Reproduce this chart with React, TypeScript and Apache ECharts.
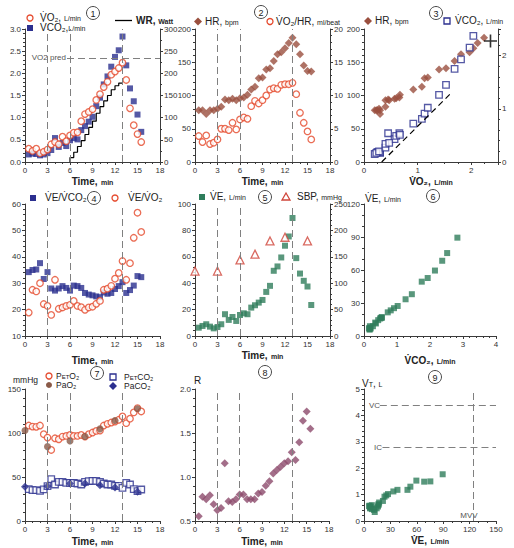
import React, { useEffect, useRef } from 'react';
import * as echarts from 'echarts';

// ---------- data ----------
const times = [0.5, 1, 1.5, 2, 2.5, 3, 3.5, 4, 4.5, 5, 5.5, 6, 6.5, 7, 7.5, 8, 8.5, 9, 9.5, 10, 10.5, 11, 11.5, 12, 12.5, 13, 13.5, 14, 14.5, 15, 15.5];
const vo2 = [0.30, 0.25, 0.30, 0.20, 0.23, 0.28, 0.40, 0.45, 0.40, 0.57, 0.47, 0.60, 0.66, 0.67, 0.92, 1.08, 1.13, 1.19, 1.40, 1.53, 1.69, 1.81, 1.97, 2.04, 2.12, 2.24, 1.85, 1.21, 0.83, 0.63, 0.45];
const vco2 = [0.17, 0.19, 0.18, 0.15, 0.17, 0.20, 0.27, 0.54, 0.34, 0.43, 0.36, 0.49, 0.54, 0.51, 0.72, 0.81, 0.91, 1.02, 1.26, 1.45, 1.75, 1.93, 2.15, 2.37, 2.52, 2.83, 2.18, 1.66, 1.37, 1.07, 0.68];
const wrTimes = [6, 6, 6.5, 7, 7.5, 8, 8.5, 9, 9.5, 10, 10.5, 11, 11.5, 12, 12.5, 13];
const wrWatts = [0, 10, 22, 35, 48, 62, 78, 92, 110, 125, 138, 150, 163, 172, 178, 178];
const hr = [78, 78, 72, 78, 78, 80, 83, 94, 93, 95, 93, 96, 97, 101, 109, 113, 126, 127, 139, 141, 152, 162, 165, 171, 179, 187, 177, 162, 145, 137, 136];
const vo2PerHr = [3.9, 3.0, 4.0, 2.7, 2.9, 3.4, 5.0, 5.0, 4.8, 5.9, 4.9, 6.4, 6.7, 6.5, 8.4, 9.2, 8.8, 9.3, 10.0, 10.9, 11.1, 11.0, 11.6, 11.7, 11.7, 11.9, 10.2, 7.4, 5.9, 4.6, 3.4];
const veVco2 = [34.2, 35.0, 35.2, 37.6, 31.6, 34.2, 28.0, 27.2, 28.0, 28.9, 28.2, 27.2, 29.1, 28.9, 28.2, 26.3, 25.7, 25.4, 25.0, 24.7, 26.5, 26.0, 26.3, 27.8, 28.9, 30.4, 26.3, 27.4, 29.1, 32.7, 32.3];
const veVo2 = [18.9, 27.5, 26.9, 30.0, 22.1, 21.4, 18.0, 31.3, 20.3, 20.8, 21.4, 21.8, 23.3, 21.4, 20.9, 19.9, 20.8, 21.1, 22.2, 23.3, 27.5, 27.9, 29.0, 31.7, 33.9, 38.4, 31.3, 37.6, 47.2, 56.7, 49.4];
const ve = [6.3, 7.6, 8.9, 7.1, 5.8, 6.8, 8.9, 16.5, 12.2, 14.4, 11.4, 15.9, 17.2, 16.5, 21.5, 23.3, 25.3, 27.3, 33.4, 38.0, 49.4, 52.7, 59.5, 68.4, 75.4, 89.4, 59.0, 47.3, 41.8, 37.5, 23.5];
const sbpTimes = [0, 3, 6, 8, 10, 12, 15];
const sbp = [123, 123, 144, 155, 180, 187, 180];
const petO2 = [108.5, 107.3, 107.0, 108.5, 98.6, 94.8, 80.7, 94.0, 92.9, 95.9, 96.7, 97.8, 96.7, 96.7, 97.8, 95.9, 98.6, 100.5, 102.4, 102.8, 108.5, 110.4, 111.9, 113.0, 115.0, 118.8, 111.2, 116.2, 123.4, 128.3, 124.5];
const petCo2 = [36.2, 35.0, 35.0, 34.3, 36.0, 39.6, 47.6, 41.5, 44.5, 44.5, 43.4, 43.4, 43.4, 42.6, 41.5, 44.5, 45.3, 45.7, 45.7, 44.5, 42.6, 41.5, 41.5, 40.0, 40.0, 37.7, 43.4, 41.5, 36.2, 33.9, 35.8];
const bloodTimes = [0, 3, 6, 8, 10, 12, 15];
const paO2 = [102.8, 84.5, 91, 96, 104.7, 114.2, 127.5];
const paCo2 = [38.8, 39.6, 42.6, 42.6, 40.7, 38.0, 33.1];
const rer = [0.553, 0.775, 0.748, 0.793, 0.69, 0.622, 0.648, 1.155, 0.725, 0.717, 0.748, 0.80, 0.80, 0.748, 0.748, 0.748, 0.813, 0.83, 0.90, 0.953, 1.04, 1.08, 1.117, 1.155, 1.18, 1.28, 1.193, 1.395, 1.638, 1.745, 1.547];
const vt = [0.58, 0.55, 0.60, 0.52, 0.56, 0.48, 0.45, 0.63, 0.34, 0.48, 0.42, 0.55, 0.70, 0.62, 0.76, 0.92, 0.97, 1.02, 1.12, 1.18, 1.18, 1.30, 1.53, 1.49, 1.50, 1.77];
const exerciseCount = 26; // samples up to peak exercise (t = 13 min)
const stageTimes = [3, 6, 13];
const vo2Pred = 2.35;
const predMax = [2.36, 182];
const slopeLine = [[0.33, 0], [1.6, 1.27]];
const vcLevel = 4.37;
const icLevel = 2.78;
const mvvLevel = 124;

// ---------- styles ----------
const FONT = '"Liberation Sans", Arial, Helvetica, sans-serif';
const AX = '#3a3a3a';
const DASH = '#808080';
const INK = '#222';
const C_ORANGE = '#E5482B';
const C_NAVY = '#2B2F8F';
const C_BROWN = '#9A4F3E';
const C_GREEN = '#2F7D5B';
const C_PURPLE = '#8C4A6C';
const C_RED = '#D0453A';
const C_PAO2 = '#8A5A48';
const DOT = 'V\u0307';

const tok = (fontSize: number, bold = false, pad = 0) => ({
  fontSize,
  fontWeight: bold ? 'bold' : 'normal',
  color: INK,
  fill: INK,
  fontFamily: FONT,
  verticalAlign: 'bottom',
  padding: [0, 0, pad, 0],
});
const rich = {
  b: tok(10, true),
  n: tok(10),
  m: tok(8.5),
  s: tok(7, false, 0.5),
  sb: tok(7, true, 0.5),
  ss: tok(6, false, 0.5),
};

const pair = (xs: number[], ys: number[]) => xs.map((x, i) => [x, ys[i]]);

function valAxis(grid: number, min: number, max: number, interval: number, o: any = {}) {
  return {
    type: 'value',
    gridIndex: grid,
    min,
    max,
    interval,
    position: o.position,
    name: o.name,
    nameLocation: 'middle',
    nameGap: o.nameGap ?? 12,
    nameTextStyle: { rich },
    axisLine: { show: true, onZero: false, lineStyle: { color: AX, width: 1 } },
    axisTick: { show: true, length: 3, lineStyle: { color: AX } },
    minorTick: { show: true, splitNumber: o.minor ?? 5, length: 2, lineStyle: { color: AX } },
    splitLine: { show: false },
    axisLabel: {
      fontSize: 8,
      color: '#333',
      margin: 4,
      fontFamily: FONT,
      showMaxLabel: o.hideMax ? false : true,
      formatter: o.fmt,
    },
  };
}

const timeAxis = (grid: number, gap: number) =>
  valAxis(grid, 0, 18, 3, { name: '{b|Time,} {sb|min}', nameGap: gap, minor: 3 });

function scatter(x: number, y: number, data: any[], symbol: string, size: number, color: string, filled: boolean, extra: any = {}) {
  return {
    type: 'scatter',
    xAxisIndex: x,
    yAxisIndex: y,
    data,
    symbol,
    symbolSize: size,
    clip: true,
    silent: true,
    itemStyle: filled ? { color } : { color: '#fff', borderColor: color, borderWidth: 1.3 },
    ...extra,
  };
}

const stageLines = {
  silent: true,
  symbol: 'none',
  label: { show: false },
  lineStyle: { color: DASH, type: [7, 4], width: 1 },
  data: stageTimes.map((t) => ({ xAxis: t })),
};

// ---------- graphic helpers ----------
function mk(type: string, cx: number, cy: number, color: string, filled: boolean) {
  const style = filled ? { fill: color } : { fill: '#fff', stroke: color, lineWidth: 1.3 };
  if (type === 'circle') return { type: 'circle', shape: { cx, cy, r: 3 }, style };
  if (type === 'rect') return { type: 'rect', shape: { x: cx - 3, y: cy - 3, width: 6, height: 6 }, style };
  if (type === 'diamond')
    return { type: 'polygon', shape: { points: [[cx, cy - 4], [cx + 4, cy], [cx, cy + 4], [cx - 4, cy]] }, style };
  return { type: 'polygon', shape: { points: [[cx, cy - 4], [cx + 4, cy + 3], [cx - 4, cy + 3]] }, style };
}
function txt(x: number, y: number, text: string, align = 'left', size = 10, color = INK) {
  return {
    type: 'text',
    x,
    y,
    style: { text, rich, align, verticalAlign: 'middle', fontFamily: FONT, fontSize: size, fill: color },
  };
}
function num(x: number, y: number, n: number) {
  return [
    { type: 'circle', shape: { cx: x, cy: y, r: 6.5 }, style: { fill: 'none', stroke: '#333', lineWidth: 0.9 } },
    txt(x, y + 0.5, String(n), 'center', 9),
  ];
}

export default function App() {
  const ref = useRef<HTMLDivElement>(null);
  useEffect(() => {
    if (!ref.current) return;
    const chart = echarts.init(ref.current, null, { renderer: 'svg' });

    const vo2Ex = vo2.slice(0, exerciseCount);
    const vco2Ex = vco2.slice(0, exerciseCount);
    const hrEx = hr.slice(0, exerciseCount);
    const veEx = ve.slice(0, exerciseCount);

    const graphic: any[] = [
      // panel 1
      ...num(93, 13, 1),
      mk('circle', 30, 18, C_ORANGE, false),
      txt(40, 17, `{n|${DOT}O₂,} {s|L/min}`),
      mk('rect', 30, 28, C_NAVY, true),
      txt(40, 27, `{n|${DOT}CO₂,}{s|L/min}`),
      { type: 'line', shape: { x1: 115, y1: 20.5, x2: 132, y2: 20.5 }, style: { stroke: '#000', lineWidth: 1.3 } },
      txt(136, 20, '{b|WR,} {sb|Watt}'),
      txt(66, 57.5, 'VO2 pred', 'right', 8, '#555'),
      // panel 2
      ...num(261, 12, 2),
      mk('diamond', 198, 21.5, C_BROWN, true),
      txt(205, 21, '{n|HR,} {s|bpm}'),
      mk('circle', 270, 21.5, C_ORANGE, false),
      txt(276, 21, `{n|${DOT}O₂/HR,} {s|ml/beat}`),
      // panel 3
      ...num(436, 13, 3),
      mk('diamond', 368, 21, C_BROWN, true),
      txt(375, 20.5, '{n|HR,} {s|bpm}'),
      mk('rect', 447, 21, C_NAVY, false),
      txt(455, 20.5, `{n|${DOT}CO₂,} {s|L/min}`),
      // panel 4
      ...num(94, 198, 4),
      mk('rect', 33, 198, C_NAVY, true),
      txt(45, 197.5, `{n|${DOT}E/${DOT}CO₂}`),
      mk('circle', 115, 198, C_ORANGE, false),
      txt(128, 197.5, `{n|${DOT}E/${DOT}O₂}`),
      // panel 5
      ...num(265, 197, 5),
      mk('rect', 202, 197, C_GREEN, true),
      txt(210, 196.5, `{n|${DOT}E,} {s|L/min}`),
      mk('triangle', 286, 197, C_RED, false),
      txt(297, 196.5, '{n|SBP,} {s|mmHg}'),
      // panel 6
      ...num(433, 196, 6),
      txt(365, 198, `{n|${DOT}E,} {s|L/min}`),
      // panel 7
      ...num(97, 373, 7),
      txt(13, 380, '{m|mmHg}'),
      mk('circle', 49, 376, C_ORANGE, false),
      txt(56, 375.5, '{m|P}{ss|ET}{m|O₂}'),
      mk('circle', 49, 385, C_PAO2, true),
      txt(56, 385, '{m|PaO₂}'),
      mk('rect', 113, 377, C_NAVY, false),
      txt(124, 376.5, '{m|P}{ss|ET}{m|CO₂}'),
      mk('diamond', 113, 386, C_NAVY, true),
      txt(124, 386, '{m|PaCO₂}'),
      // panel 8
      ...num(265, 372, 8),
      txt(194, 380, '{n|R}'),
      // panel 9
      ...num(435, 377, 9),
      txt(362, 383, '{n|V}{s|T}{n|,} {s|L}'),
      txt(380, 405.5, 'VC', 'right', 8, '#555'),
      txt(382, 447.5, 'IC', 'right', 8, '#555'),
      txt(469, 515, 'MVV', 'center', 8, '#555'),
    ];

    const option: any = {
      animation: false,
      backgroundColor: '#fff',
      textStyle: { fontFamily: FONT },
      grid: [
        { left: 25, top: 29, width: 135, height: 133 },
        { left: 195, top: 29, width: 135, height: 133 },
        { left: 364, top: 29, width: 134, height: 133 },
        { left: 25, top: 204, width: 135, height: 132 },
        { left: 195, top: 204, width: 135, height: 132 },
        { left: 364, top: 204, width: 132, height: 132 },
        { left: 25, top: 389, width: 135, height: 132 },
        { left: 195, top: 389, width: 134, height: 132 },
        { left: 364, top: 389, width: 132, height: 132 },
      ],
      xAxis: [
        timeAxis(0, 11),
        timeAxis(1, 11),
        valAxis(2, 0, 2.5, 1, { name: `{b|${DOT}O₂,} {sb|L/min}`, nameGap: 11, minor: 4, hideMax: true }),
        timeAxis(3, 17),
        timeAxis(4, 12),
        valAxis(5, 0, 4, 1, { name: `{b|${DOT}CO₂,} {sb|L/min}`, nameGap: 17, minor: 5 }),
        timeAxis(6, 13),
        timeAxis(7, 13),
        valAxis(8, 0, 150, 30, { name: `{b|${DOT}E,} {sb|L/min}`, nameGap: 10, minor: 3 }),
      ],
      yAxis: [
        valAxis(0, 0, 3, 0.5, { fmt: (v: number) => v.toFixed(1) }),
        valAxis(0, 0, 300, 50, { position: 'right', minor: 2 }),
        valAxis(1, 0, 200, 50, {}),
        valAxis(1, 0, 20, 5, { position: 'right' }),
        valAxis(2, 0, 200, 50, {}),
        valAxis(2, 0, 2.5, 1, { position: 'right', hideMax: true }),
        valAxis(3, 10, 60, 10, {}),
        valAxis(4, 0, 100, 20, {}),
        valAxis(4, 0, 250, 50, { position: 'right' }),
        valAxis(5, 0, 120, 30, { minor: 3 }),
        valAxis(6, 0, 150, 50, {}),
        valAxis(7, 0.5, 2, 0.5, { fmt: (v: number) => v.toFixed(1) }),
        valAxis(8, 0, 5, 1, {}),
      ],
      series: [
        // panel 1
        {
          type: 'line',
          xAxisIndex: 0,
          yAxisIndex: 1,
          data: pair(wrTimes, wrWatts),
          step: 'end',
          symbol: 'none',
          silent: true,
          lineStyle: { color: '#000', width: 1.2 },
        },
        scatter(0, 0, pair(times, vco2), 'rect', 6, C_NAVY, true, {
          markLine: {
            silent: true,
            symbol: 'none',
            label: { show: false },
            lineStyle: { color: DASH, type: [7, 4], width: 1 },
            data: [[{ coord: [5.6, vo2Pred] }, { coord: [18, vo2Pred] }]],
          },
        }),
        scatter(0, 0, pair(times, vo2), 'circle', 6.5, C_ORANGE, false, { markLine: stageLines }),
        // panel 2
        scatter(1, 2, pair(times, hr), 'diamond', 8, C_BROWN, true, { markLine: stageLines }),
        scatter(1, 3, pair(times, vo2PerHr), 'circle', 6.5, C_ORANGE, false),
        // panel 3
        {
          type: 'line',
          xAxisIndex: 2,
          yAxisIndex: 5,
          data: slopeLine,
          symbol: 'none',
          silent: true,
          lineStyle: { color: '#000', width: 1.2, type: [6, 4] },
        },
        scatter(2, 4, pair(vo2Ex, hrEx), 'diamond', 8, C_BROWN, true),
        scatter(2, 5, pair(vo2Ex, vco2Ex), 'rect', 6.5, C_NAVY, false),
        scatter(2, 4, [predMax], 'path://M7,0H9V7H16V9H9V16H7V9H0V7H7Z', 13, '#000', true),
        // panel 4
        scatter(3, 6, pair(times, veVco2), 'rect', 6, C_NAVY, true, { markLine: stageLines }),
        scatter(3, 6, pair(times, veVo2), 'circle', 6.5, C_ORANGE, false),
        // panel 5
        scatter(4, 7, pair(times, ve), 'rect', 6, C_GREEN, true, { markLine: stageLines }),
        scatter(4, 8, pair(sbpTimes, sbp), 'triangle', 8, C_RED, false),
        // panel 6
        scatter(5, 9, pair(vco2Ex, veEx), 'rect', 6, C_GREEN, true),
        // panel 7
        scatter(6, 10, pair(times, petO2), 'circle', 6.5, C_ORANGE, false, { markLine: stageLines }),
        scatter(6, 10, pair(times, petCo2), 'rect', 6.5, C_NAVY, false),
        scatter(6, 10, pair(bloodTimes, paO2), 'circle', 7, C_PAO2, true),
        scatter(6, 10, pair(bloodTimes, paCo2), 'diamond', 8, C_NAVY, true),
        // panel 8
        scatter(7, 11, pair(times, rer), 'diamond', 8, C_PURPLE, true, { markLine: stageLines }),
        // panel 9
        scatter(8, 12, pair(veEx, vt), 'rect', 6, C_GREEN, true, {
          markLine: {
            silent: true,
            symbol: 'none',
            label: { show: false },
            lineStyle: { color: DASH, type: [7, 4], width: 1 },
            data: [
              [{ coord: [18, vcLevel] }, { coord: [150, vcLevel] }],
              [{ coord: [21, icLevel] }, { coord: [150, icLevel] }],
              { xAxis: mvvLevel },
            ],
          },
        }),
      ],
      graphic,
    };
    chart.setOption(option);
    return () => chart.dispose();
  }, []);

  return (
    <div
      ref={ref}
      style={{ position: 'absolute', left: 0, top: 0, width: 514, height: 548, background: '#fff' }}
    />
  );
}
